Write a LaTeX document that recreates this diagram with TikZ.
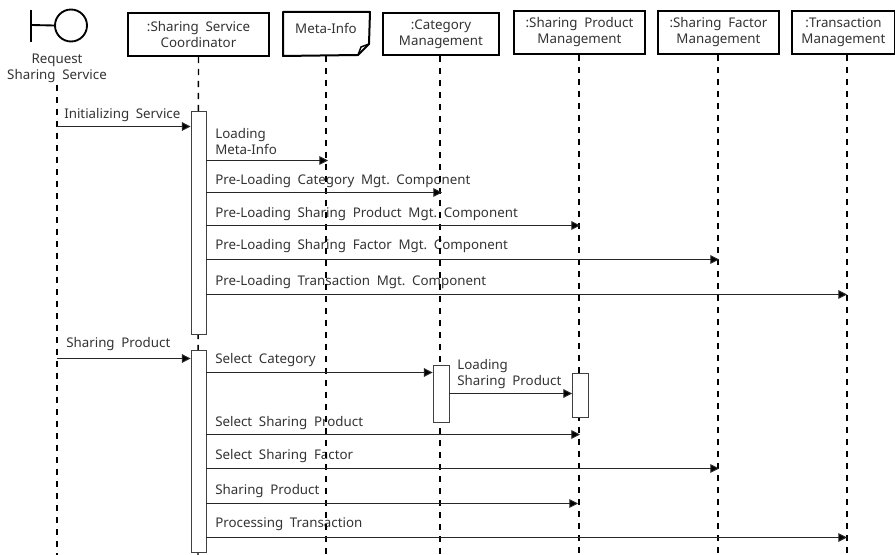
\documentclass[tikz,border=0pt]{standalone}
\usepackage{fontspec}
\setmainfont{Noto Sans}
\usetikzlibrary{arrows.meta}
\newcommand{\wsp}{\hspace{0.5em}}
\tikzset{
  x=0.75pt,y=-0.75pt,
  obj/.style={draw=black,line width=1.5pt,fill=white,align=center,inner sep=0pt,text=black!80,font=\fontsize{10}{12}\selectfont},
  life/.style={draw=black,line width=1.1pt,dash pattern=on 4.6pt off 4.4pt},
  act/.style={draw=black!75,line width=0.7pt,fill=white,inner sep=0pt},
  msg/.style={draw=black!85,line width=0.75pt,-{Triangle[length=6.5pt,width=6.5pt,fill=black]}},
  lbl/.style={anchor=west,inner sep=0pt,align=left,text=black!80,font=\fontsize{10}{12}\selectfont},
  bnd/.style={draw=black,line width=1.4pt}
}
\begin{document}
\begin{tikzpicture}
\useasboundingbox (0,0) rectangle (895,555);
% boxes
\node[obj,minimum width=141*0.75pt,minimum height=43*0.75pt] (ssc) at (198.5,34.5) {:Sharing\wsp Service\\Coordinator};
\node[obj,minimum width=85*0.75pt,minimum height=42*0.75pt,draw=none] (meta) at (326.5,34) {};
\node[anchor=center,inner sep=0pt,text=black!80,font=\fontsize{10}{12}\selectfont] (metat) at (326,28.5) {Meta-Info};
\node[obj,minimum width=116*0.75pt,minimum height=42*0.75pt] (cat) at (441,34) {:Category\\Management};
\node[obj,minimum width=131*0.75pt,minimum height=43*0.75pt] (prod) at (579.5,32.5) {:Sharing\wsp Product\\Management};
\node[obj,minimum width=121*0.75pt,minimum height=43*0.75pt] (fac) at (718.5,32.5) {:Sharing\wsp Factor\\Management};
\node[obj,minimum width=103*0.75pt,minimum height=43*0.75pt] (trn) at (843.5,32.5) {:Transaction\\Management};
% note outline with fold on Meta-Info
\coordinate (f1) at (369,44);
\coordinate (f2) at (358,55);
\draw[line width=1.5pt,line join=round] (meta.north west) -- (meta.north east) -- (f1) -- (f2) -- (meta.south west) -- cycle;
\draw[line width=1.1pt] (f1) -- (361,47) -- (f2);
% boundary actor
\coordinate (bt) at (31,10);
\coordinate (bb) at (31,42);
\coordinate (bm) at (31,25);
\node[draw=black,line width=1.4pt,circle,minimum size=32*0.75pt,inner sep=0pt] (circ) at (71,25.5) {};
\draw[bnd] (bt) -- (bb);
\draw[bnd] (bm) -- (circ.west);
\node[align=center,inner sep=0pt,text=black!80,font=\fontsize{10}{12}\selectfont] (req) at (57,68) {Request\\Sharing\wsp Service};
% lifeline ends
\coordinate (e0) at (57,85);
\coordinate (e0b) at (57,555);
\coordinate (e1) at (198,555);
\coordinate (e2) at (326,555);
\coordinate (e3) at (440,555);
\coordinate (e4) at (579,555);
\coordinate (e5) at (718,555);
\coordinate (e6) at (847,555);
% labels
\node[lbl] (t1) at (64,115) {Initializing\wsp Service};
\node[lbl] (t2) at (215,141.5) {Loading\\Meta-Info};
\node[lbl] (t3) at (215,181) {Pre-Loading\wsp Category\wsp Mgt.\wsp Component};
\node[lbl] (t4) at (215,214) {Pre-Loading\wsp Sharing\wsp Product\wsp Mgt.\wsp Component};
\node[lbl] (t5) at (215,246) {Pre-Loading\wsp Sharing\wsp Factor\wsp Mgt.\wsp Component};
\node[lbl] (t6) at (215,282) {Pre-Loading\wsp Transaction\wsp Mgt.\wsp Component};
\node[lbl] (t7) at (66,344.5) {Sharing\wsp Product};
\node[lbl] (t8) at (215,360) {Select\wsp Category};
\node[lbl] (t9) at (457,374.5) {Loading\\Sharing\wsp Product};
\node[lbl] (t10) at (215,423) {Select\wsp Sharing\wsp Product};
\node[lbl] (t11) at (215,456) {Select\wsp Sharing\wsp Factor};
\node[lbl] (t12) at (215,491) {Sharing\wsp Product};
\node[lbl] (t13) at (215,524) {Processing\wsp Transaction};
% lifelines
\draw[life] (e0) -- (e0b);
\draw[life] (ssc.south) -- (e1);
\draw[life] (e2 |- meta.south) -- (e2);
\draw[life] (e3 |- cat.south) -- (e3);
\draw[life] (e4 |- prod.south) -- (e4);
\draw[life] (e5 |- fac.south) -- (e5);
\draw[life] (e6 |- trn.south) -- (e6);
% activations
\node[act,minimum width=15*0.75pt,minimum height=223*0.75pt] (a1) at (198.5,222.5) {};
\node[act,minimum width=15*0.75pt,minimum height=202*0.75pt] (a2) at (198.5,451) {};
\node[act,minimum width=16*0.75pt,minimum height=57*0.75pt] (a3) at (441,393.5) {};
\node[act,minimum width=16*0.75pt,minimum height=44*0.75pt] (a4) at (580.5,395) {};
% messages
\draw[msg] (e0 |- 0,126.5) -- (a1.west |- 0,126.5);
\draw[msg] (a1.east |- 0,160.5) -- (328,160.5);
\draw[msg] (a1.east |- 0,192.5) -- (442,192.5);
\draw[msg] (a1.east |- 0,225.5) -- (580,225.5);
\draw[msg] (a1.east |- 0,259.5) -- (719,259.5);
\draw[msg] (a1.east |- 0,294.5) -- (847,294.5);
\draw[msg] (e0 |- 0,358.5) -- (a2.west |- 0,358.5);
\draw[msg] (a2.east |- 0,372.5) -- (a3.west |- 0,372.5);
\draw[msg] (a3.east |- 0,393.5) -- (a4.west |- 0,393.5);
\draw[msg] (a2.east |- 0,434.5) -- (580,434.5);
\draw[msg] (a2.east |- 0,468.5) -- (719,468.5);
\draw[msg] (a2.east |- 0,503.5) -- (578,503.5);
\draw[msg] (a2.east |- 0,537.5) -- (847,537.5);
\end{tikzpicture}
\end{document}
